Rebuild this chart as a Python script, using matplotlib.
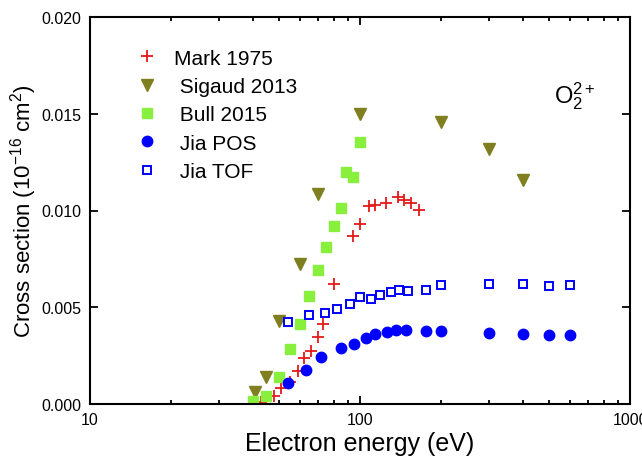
import numpy as np
import matplotlib.pyplot as plt

plt.rcParams['font.family'] = ['Liberation Sans', 'DejaVu Sans']
plt.rcParams['mathtext.fontset'] = 'custom'
plt.rcParams['mathtext.rm'] = 'Liberation Sans'
plt.rcParams['mathtext.it'] = 'Liberation Sans'

# Mark 1975
mark_e = [41, 43, 48, 51, 55, 59, 62, 66, 70, 73, 80, 94, 100, 108, 114, 125, 138, 146, 154, 165]
mark_cs = [0.00004, 0.00012, 0.00043, 0.00083, 0.00115, 0.0017, 0.00236, 0.00272, 0.00346, 0.00414,
           0.0062, 0.0087, 0.00929, 0.01022, 0.0103, 0.01041, 0.01072, 0.01053, 0.01041, 0.01001]

# Sigaud 2013
sig_e = [41, 45, 50, 60, 70, 100, 200, 300, 400]
sig_cs = [0.0006, 0.00138, 0.00431, 0.00725, 0.01086, 0.0150, 0.01456, 0.01318, 0.0116]

# Bull 2015
bull_e = [40, 45, 50, 55, 60, 65, 70, 75, 80, 85, 89, 94, 100]
bull_cs = [0.00016, 0.00041, 0.00141, 0.00284, 0.00414, 0.0056, 0.00691, 0.0081, 0.00922,
           0.01015, 0.01198, 0.01175, 0.01353]

# Jia POS
pos_e = [54, 63, 72, 85, 95, 105, 114, 126, 136, 148, 175, 200, 300, 400, 500, 600]
pos_cs = [0.00107, 0.00176, 0.00243, 0.0029, 0.0031, 0.0034, 0.0036, 0.00372, 0.00383, 0.00384,
          0.00378, 0.00378, 0.00367, 0.00362, 0.00357, 0.00357]

# Jia TOF
tof_e = [54, 65, 74, 82, 92, 100, 110, 119, 130, 139, 150, 176, 200, 300, 400, 500, 600]
tof_cs = [0.00422, 0.00462, 0.00471, 0.00493, 0.00516, 0.00552, 0.00543, 0.00564, 0.00579, 0.00588,
          0.00583, 0.00591, 0.00615, 0.0062, 0.00619, 0.00609, 0.00615]

fig = plt.figure(figsize=(6.42, 4.6), dpi=100)
ax = fig.add_axes([90 / 642, 55 / 460, 540 / 642, 387 / 460])

ax.plot(mark_e, mark_cs, ls='none', marker='+', ms=8, mew=1.3, color='#e41a1a', label='Mark 1975')
ax.plot(sig_e, sig_cs, ls='none', marker='v', ms=8, color='#7f7f1f', label=' Sigaud 2013')
ax.plot(bull_e, bull_cs, ls='none', marker='s', ms=6.5, color='#88f03c', label=' Bull 2015')
ax.plot(pos_e, pos_cs, ls='none', marker='o', ms=7.5, color='#0000ff', label=' Jia POS')
ax.plot(tof_e, tof_cs, ls='none', marker='s', ms=6, mfc='white', mec='#0000ff', mew=1.4,
        label=' Jia TOF')

ax.set_xscale('log')
ax.set_xlim(10, 1000)
ax.set_ylim(0, 0.02)
ax.set_yticks([0, 0.005, 0.010, 0.015, 0.020])
ax.set_yticklabels(['0.000', '0.005', '0.010', '0.015', '0.020'])
ax.set_xticks([10, 100, 1000])
ax.set_xticklabels(['10', '100', '1000'])

ax.tick_params(which='both', direction='in', top=True, right=True, labelsize=11.5, width=1.3)
ax.tick_params(which='major', length=6, pad=6)
ax.tick_params(which='minor', length=3)
ax.tick_params(axis='y', which='minor', left=False, right=False)
for s in ax.spines.values():
    s.set_linewidth(1.5)

ax.set_xlabel('Electron energy (eV)', fontsize=18, labelpad=3)
ax.set_ylabel(r'Cross section (10$^{-16}$ cm$^{2}$)', fontsize=16, labelpad=2)

ax.text(0.86, 0.78, r'O$_2^{2+}$', transform=ax.transAxes, fontsize=17)

ax.legend(loc='upper left', bbox_to_anchor=(0.07, 0.94), frameon=False, fontsize=15,
          handlelength=1.0, handletextpad=0.8, labelspacing=0.45, borderaxespad=0)

fig.savefig('out.png', dpi=100)
